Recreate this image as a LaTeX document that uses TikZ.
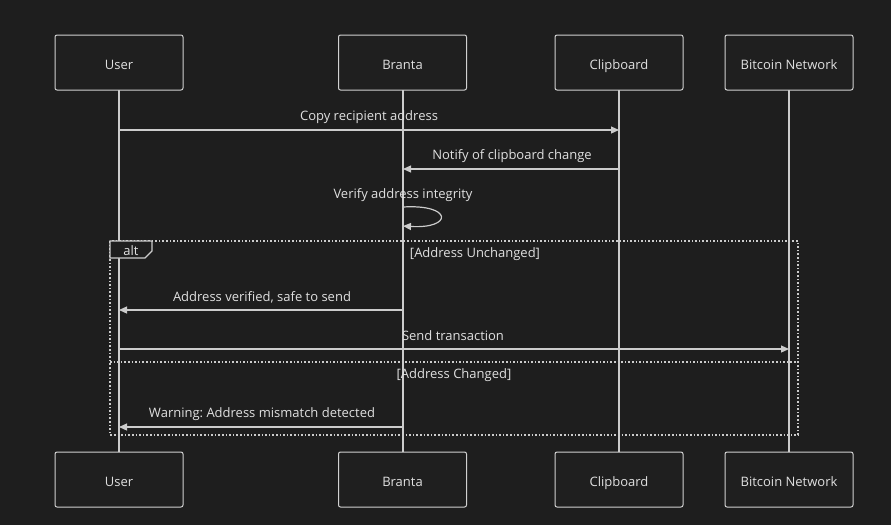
\documentclass[tikz,border=0pt]{standalone}
\usepackage{fontspec}
\setmainfont{Open Sans}
\frenchspacing
\usetikzlibrary{arrows.meta}
\definecolor{bg}{HTML}{1E1E1E}
\definecolor{boxfill}{HTML}{1F1F1F}
\definecolor{fg}{HTML}{CCCCCC}
\definecolor{txt}{HTML}{E0E0E0}
\begin{document}
\begin{tikzpicture}[x=1pt,y=-1pt,
  actor/.style={draw=fg!90, fill=boxfill, line width=1pt, rounded corners=2pt, minimum width=128pt, minimum height=55pt, text=txt, font=\fontsize{13}{15}\selectfont, inner sep=0pt, text height=13pt, text depth=0pt},
  life/.style={draw=fg, line width=1.2pt},
  msg/.style={draw=fg, line width=1.2pt, -{Triangle[length=8pt,width=7pt]}},
  lbl/.style={text=txt, font=\fontsize{13}{15}\selectfont, inner sep=0pt, text height=9.5pt, text depth=2.5pt},
  frame/.style={draw=fg, line width=1.4pt, dash pattern=on 1.6pt off 2pt}]
\fill[bg] (0,0) rectangle (891,525);
\useasboundingbox (0,0) rectangle (891,525);
% lifelines first
\coordinate (uT) at (119,90); \coordinate (uB) at (119,452);
\coordinate (bT) at (403,90); \coordinate (bB) at (403,452);
\coordinate (cT) at (619,90); \coordinate (cB) at (619,452);
\coordinate (nT) at (789,90); \coordinate (nB) at (789,452);
\draw[life] (uT) -- (uB);
\draw[life] (bT) -- (bB);
\draw[life] (cT) -- (cB);
\draw[life] (nT) -- (nB);
% actors
\node[actor] (u1) at (119,62.5) {User};
\node[actor] (b1) at (402.5,62.5) {Branta};
\node[actor] (c1) at (619,62.5) {Clipboard};
\node[actor] (n1) at (789,62.5) {Bitcoin Network};
\node[actor] (u2) at (119,479.5) {User};
\node[actor] (b2) at (402.5,479.5) {Branta};
\node[actor] (c2) at (619,479.5) {Clipboard};
\node[actor] (n2) at (789,479.5) {Bitcoin Network};
% message 1
\coordinate (m1a) at (119,130); \coordinate (m1b) at (619,130);
\draw[msg] (m1a) -- (m1b);
\node[lbl] (l1) at (369,117) {Copy recipient address};
% message 2
\coordinate (m2a) at (619,169); \coordinate (m2b) at (403,169);
\draw[msg] (m2a) -- (m2b);
\node[lbl] (l2) at (512,156) {Notify of clipboard change};
% self loop
\node[lbl] (l3) at (403,195) {Verify address integrity};
\coordinate (m3a) at (403,207); \coordinate (m3b) at (403,226);
\draw[msg] (m3a) .. controls (453,204) and (453,229) .. (m3b);
% alt frame
\coordinate (fTL) at (110,241); \coordinate (fBR) at (798,435);
\draw[frame] (fTL) rectangle (fBR);
\coordinate (dL) at (110,362); \coordinate (dR) at (798,362);
\draw[frame] (dL) -- (dR);
\draw[draw=fg, line width=1.2pt, fill=bg] (110,241) -- (152,241) -- (152,251) -- (145,258) -- (110,258) -- cycle;
\node[lbl] (alt) at (131,251.5) {alt};
\node[lbl] (c1l) at (475,253.5) {[Address Unchanged]};
% message 4
\coordinate (m4a) at (403,310); \coordinate (m4b) at (119,310);
\draw[msg] (m4a) -- (m4b);
\node[lbl] (l4) at (262,298) {Address verified, safe to send};
% message 5
\coordinate (m5a) at (119,349); \coordinate (m5b) at (789,349);
\draw[msg] (m5a) -- (m5b);
\node[lbl] (l5) at (453,337) {Send transaction};
\node[lbl] (c2l) at (454,375) {[Address Changed]};
% message 6
\coordinate (m6a) at (403,427); \coordinate (m6b) at (119,427);
\draw[msg] (m6a) -- (m6b);
\node[lbl] (l6) at (262,414) {Warning: Address mismatch detected};
\end{tikzpicture}
\end{document}
